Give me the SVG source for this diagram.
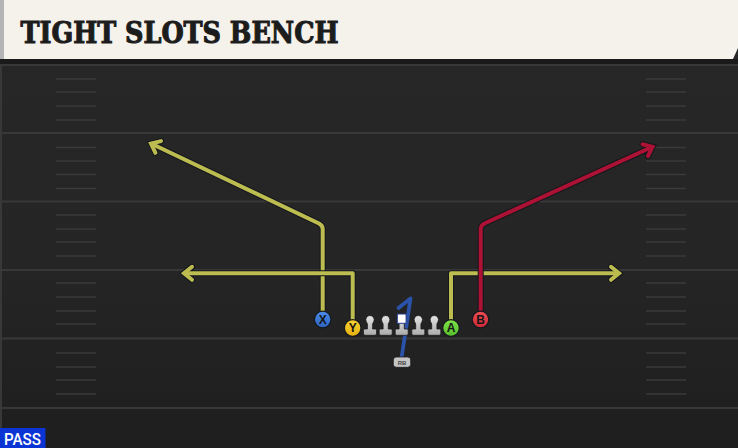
<svg xmlns="http://www.w3.org/2000/svg" width="738" height="448" viewBox="0 0 738 448">
<defs>
<style>
.yard{stroke:#383838;stroke-width:2;fill:none}
.hash{stroke:#3a3a3a;stroke-width:1.6;fill:none}
.outline{fill:none;stroke:#14161c;stroke-width:6;stroke-linejoin:round;stroke-linecap:butt}
.yl{fill:none;stroke:#bcbc50;stroke-width:4;stroke-linejoin:round}
.rd{fill:none;stroke:#ab1233;stroke-width:4;stroke-linejoin:round}
.lbl{font-family:"Liberation Sans",Arial,sans-serif;font-weight:bold;font-size:12px;fill:#161616;text-anchor:middle}
.ol{stroke:#15181e;stroke-width:1.2}
</style>
<linearGradient id="fieldg" x1="0" y1="0" x2="0" y2="1">
<stop offset="0" stop-color="#272727"/>
<stop offset="0.6" stop-color="#252525"/>
<stop offset="1" stop-color="#1e1e1e"/>
</linearGradient>
<linearGradient id="gX" x1="0" y1="0" x2="0" y2="1"><stop offset="0" stop-color="#4d8ee8"/><stop offset="1" stop-color="#2b62bf"/></linearGradient>
<linearGradient id="gY" x1="0" y1="0" x2="0" y2="1"><stop offset="0" stop-color="#f8d232"/><stop offset="1" stop-color="#e5b210"/></linearGradient>
<linearGradient id="gA" x1="0" y1="0" x2="0" y2="1"><stop offset="0" stop-color="#7fe04a"/><stop offset="1" stop-color="#56bf2a"/></linearGradient>
<linearGradient id="gB" x1="0" y1="0" x2="0" y2="1"><stop offset="0" stop-color="#ee4d55"/><stop offset="1" stop-color="#cc2a36"/></linearGradient>
<linearGradient id="gL" x1="0" y1="0" x2="0" y2="1"><stop offset="0" stop-color="#e4e4e4"/><stop offset="1" stop-color="#ababab"/></linearGradient>
<marker id="mOut" markerUnits="userSpaceOnUse" orient="auto" markerWidth="30" markerHeight="30" viewBox="-15 -15 30 30" refX="0" refY="0" overflow="visible">
<path d="M-8,-6.5 L0,0 L-8,6.5" fill="none" stroke="#14161c" stroke-width="6" stroke-linejoin="miter" stroke-linecap="round"/>
</marker>
<marker id="mY" markerUnits="userSpaceOnUse" orient="auto" markerWidth="30" markerHeight="30" viewBox="-15 -15 30 30" refX="0" refY="0" overflow="visible">
<path d="M-8,-6.5 L0,0 L-8,6.5" fill="none" stroke="#bcbc50" stroke-width="4" stroke-linejoin="miter" stroke-linecap="round"/>
</marker>
<marker id="mR" markerUnits="userSpaceOnUse" orient="auto" markerWidth="30" markerHeight="30" viewBox="-15 -15 30 30" refX="0" refY="0" overflow="visible">
<path d="M-8,-6.5 L0,0 L-8,6.5" fill="none" stroke="#ab1233" stroke-width="4" stroke-linejoin="miter" stroke-linecap="round"/>
</marker>
<g id="lineman">
<path d="M-3.8,321.5 A4.2,4.2 0 1 1 3.8,321.5 L2.6,324 L2.6,329 L5.5,329 Q6.5,329 6.5,330.5 L6.5,333.8 Q6.5,335.3 5,335.3 L-5,335.3 Q-6.5,335.3 -6.5,333.8 L-6.5,330.5 Q-6.5,329 -5.5,329 L-2.6,329 L-2.6,324 Z" fill="url(#gL)" stroke="#1c1c1c" stroke-width="0.8"/>
</g>
</defs>

<!-- field -->
<rect x="0" y="0" width="738" height="448" fill="url(#fieldg)"/>
<rect x="0" y="59" width="738" height="5" fill="#1a1a1a"/>
<rect x="0" y="64" width="2" height="384" fill="#383838"/>

<g id="yardlines">
<line class="yard" x1="0" y1="65" x2="738" y2="65"/>
<line class="yard" x1="0" y1="133" x2="738" y2="133"/>
<line class="yard" x1="0" y1="201.5" x2="738" y2="201.5"/>
<line class="yard" x1="0" y1="270" x2="738" y2="270"/>
<line class="yard" x1="0" y1="338.5" x2="738" y2="338.5"/>
<line class="yard" x1="0" y1="408" x2="738" y2="408"/>
</g>
<g id="hashes">
<path class="hash" d="M56,79H96M56,92H96M56,106H96M56,120H96M56,147.5H96M56,161H96M56,174.5H96M56,188.5H96M56,215H96M56,229H96M56,242H96M56,256H96M56,283H96M56,297H96M56,311H96M56,324H96M56,353H96M56,367H96M56,380H96M56,394H96"/>
<path class="hash" d="M646,79H686M646,92H686M646,106H686M646,120H686M646,147.5H686M646,161H686M646,174.5H686M646,188.5H686M646,215H686M646,229H686M646,242H686M646,256H686M646,283H686M646,297H686M646,311H686M646,324H686M646,353H686M646,367H686M646,380H686M646,394H686"/>
</g>

<!-- title banner -->
<g id="title">
<path d="M0,0 H738 V48 L733,59 H0 Z" fill="#f5f2ec"/>
<rect x="0" y="0" width="4" height="59" fill="#b4b4b4"/>
<text x="20.5" y="42.7" font-family="'DejaVu Serif',serif" font-weight="bold" font-size="29" fill="#1c1c1c" textLength="318" lengthAdjust="spacingAndGlyphs" stroke="#1c1c1c" stroke-width="1.1" stroke-linejoin="miter">TIGHT SLOTS BENCH</text>
</g>

<!-- connectors -->
<g id="connectors">
<path class="outline" marker-end="url(#mOut)" d="M322.7,312 V229 Q322.7,225.5 319,223.5 L151,143.5"/>
<path class="yl" marker-end="url(#mY)" d="M322.7,312 V229 Q322.7,225.5 319,223.5 L151,143.5"/>
<path class="outline" marker-end="url(#mOut)" d="M352.7,320 V273.3 H184"/>
<path class="yl" marker-end="url(#mY)" d="M352.7,320 V273.3 H184"/>
<path class="outline" marker-end="url(#mOut)" d="M451,320 V273.3 H619"/>
<path class="yl" marker-end="url(#mY)" d="M451,320 V273.3 H619"/>
<path class="outline" marker-end="url(#mOut)" d="M480.7,312 V229 Q480.7,225.5 484.4,223.5 L652.5,146.8"/>
<path class="rd" marker-end="url(#mR)" d="M480.7,312 V229 Q480.7,225.5 484.4,223.5 L652.5,146.8"/>
<path d="M401.5,358 L410.5,298.5 L398.5,308" fill="none" stroke="#2a52a8" stroke-width="3.8" stroke-linejoin="round" stroke-linecap="round"/>
</g>

<!-- offensive line -->
<g id="OL1"><use href="#lineman" x="370"/></g>
<g id="OL2"><use href="#lineman" x="385.7"/></g>
<g id="C">
<use href="#lineman" x="401.7"/>
<rect x="397.3" y="314" width="8.8" height="9.3" fill="#ffffff" stroke="#1e3a8a" stroke-width="1"/>
</g>
<g id="OL4"><use href="#lineman" x="418.3"/></g>
<g id="OL5"><use href="#lineman" x="434.3"/></g>

<!-- skill players -->
<g id="X">
<circle class="ol" cx="322.7" cy="319.5" r="8.3" fill="url(#gX)"/>
<text class="lbl" x="322.7" y="323.8">X</text>
</g>
<g id="Y">
<circle class="ol" cx="352.7" cy="328" r="8.3" fill="url(#gY)"/>
<text class="lbl" x="352.7" y="332.3">Y</text>
</g>
<g id="A">
<circle class="ol" cx="451" cy="328" r="8.3" fill="url(#gA)"/>
<text class="lbl" x="451" y="332.3">A</text>
</g>
<g id="B">
<circle class="ol" cx="480.5" cy="319.5" r="8.3" fill="url(#gB)"/>
<text class="lbl" x="480.5" y="323.8">B</text>
</g>
<g id="RB">
<rect x="393.3" y="357" width="17.4" height="10.3" rx="3" fill="#c4c4c4" stroke="#1c1c1c" stroke-width="0.8"/>
<text x="402" y="364.5" font-family="'Liberation Sans',Arial,sans-serif" font-weight="bold" font-size="6" fill="#444" text-anchor="middle">RB</text>
</g>

<!-- play type label -->
<g id="pass">
<rect x="0" y="428" width="45.5" height="20" fill="#0b34d4"/>
<text x="4" y="445" font-family="Roboto,'Liberation Sans',sans-serif" font-weight="500" font-size="16" fill="#ffffff" textLength="37" lengthAdjust="spacingAndGlyphs">PASS</text>
</g>
</svg>
